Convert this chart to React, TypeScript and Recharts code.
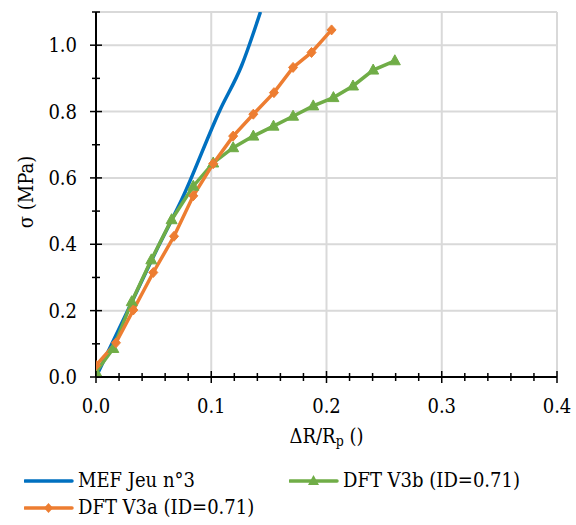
import React from 'react';
import {
  LineChart,
  Line,
  XAxis,
  YAxis,
  CartesianGrid,
} from 'recharts';

const mefX = [0, 0.0275, 0.055, 0.0743, 0.1075, 0.1263, 0.1427];
const mefY = [0, 0.2, 0.4, 0.534, 0.804, 0.938, 1.1];

const v3aX = [0, 0.0173, 0.0324, 0.0497, 0.0677, 0.0844, 0.1017, 0.119, 0.1365, 0.1544, 0.171, 0.187, 0.2044];
const v3aY = [0.035, 0.103, 0.202, 0.315, 0.424, 0.546, 0.643, 0.726, 0.792, 0.857, 0.933, 0.978, 1.046];

const v3bX = [0, 0.015, 0.031, 0.048, 0.0656, 0.0844, 0.1017, 0.119, 0.1365, 0.154, 0.171, 0.1885, 0.206, 0.223, 0.2405, 0.2593];
const v3bY = [0.015, 0.086, 0.227, 0.353, 0.474, 0.575, 0.645, 0.691, 0.726, 0.756, 0.786, 0.817, 0.842, 0.877, 0.925, 0.953];

// major ticks (labelled, with gridlines); minor ticks sit between them
const xTicks = [0, 0.1, 0.2, 0.3, 0.4];
const yTicks = [0, 0.2, 0.4, 0.6, 0.8, 1.0];
const X_MAX = 0.4;
const Y_MAX = 1.1;
const X_MINOR = 0.02;
const Y_MINOR = 0.1;

const BLUE = '#0070C0';
const ORANGE = '#ED7D31';
const GREEN = '#70AD47';
const GRID = '#D9D9D9';
const FONT = "'DejaVu Serif Condensed', 'DejaVu Serif', serif";

const toPoints = (xs: number[], ys: number[]) => xs.map((x, i) => ({ x, y: ys[i] }));
const mefData = toPoints(mefX, mefY);
const v3aData = toPoints(v3aX, v3aY);
const v3bData = toPoints(v3bX, v3bY);

const XTick = (props: any) => {
  const { x, y, payload } = props;
  const w = props.width || 461;
  const step = (w * X_MINOR) / X_MAX;
  const minors = [];
  if (payload.value < X_MAX - 1e-9) {
    for (let k = 1; k < 5; k++) minors.push(x + k * step);
  }
  return (
    <g>
      <line x1={x} x2={x} y1={y - 6} y2={y + 6} stroke="#000" strokeWidth={1.5} />
      {minors.map((mx) => (
        <line key={mx} x1={mx} x2={mx} y1={y - 4} y2={y + 4} stroke="#000" strokeWidth={1.5} />
      ))}
      <text x={x} y={y + 36} textAnchor="middle" fontSize={20} fontFamily={FONT} fill="#000">
        {payload.value.toFixed(1)}
      </text>
    </g>
  );
};

const YTick = (props: any) => {
  const { x, y, payload } = props;
  const h = props.height || 365;
  const step = (h * Y_MINOR) / Y_MAX;
  return (
    <g>
      <line x1={x - 6} x2={x + 6} y1={y} y2={y} stroke="#000" strokeWidth={1.5} />
      <line x1={x - 4} x2={x + 4} y1={y - step} y2={y - step} stroke="#000" strokeWidth={1.5} />
      <text x={x - 19} y={y + 7} textAnchor="end" fontSize={20} fontFamily={FONT} fill="#000">
        {payload.value.toFixed(1)}
      </text>
    </g>
  );
};

const Diamond = (props: any) => {
  const { cx, cy } = props;
  if (cx == null || cy == null) return null;
  return <path d={`M${cx},${cy - 5}L${cx + 4.5},${cy}L${cx},${cy + 5}L${cx - 4.5},${cy}Z`} fill={ORANGE} stroke={ORANGE} />;
};

const Triangle = (props: any) => {
  const { cx, cy } = props;
  if (cx == null || cy == null) return null;
  return <path d={`M${cx},${cy - 6}L${cx + 5.5},${cy + 4}L${cx - 5.5},${cy + 4}Z`} fill={GREEN} stroke={GREEN} />;
};

const LegendItem = ({ color, marker, label }: { color: string; marker?: 'diamond' | 'triangle'; label: string }) => (
  <div style={{ display: 'flex', alignItems: 'center' }}>
    <svg width={50} height={14} style={{ marginRight: 4 }}>
      <line x1={1} x2={48} y1={7} y2={7} stroke={color} strokeWidth={3.5} strokeLinecap="round" />
      {marker === 'diamond' && <path d="M24.5,2L29,7L24.5,12L20,7Z" fill={color} />}
      {marker === 'triangle' && <path d="M24.5,1L30,11L19,11Z" fill={color} />}
    </svg>
    <span>{label}</span>
  </div>
);

export default function App() {
  return (
    <div style={{ position: 'absolute', left: 0, top: 0, width: 576, height: 525, background: '#fff', fontFamily: FONT }}>
      <LineChart width={576} height={525} data={mefData} margin={{ top: 12, right: 19, left: 36, bottom: 93 }}>
        <CartesianGrid stroke={GRID} strokeWidth={2} />
        <XAxis
          type="number"
          dataKey="x"
          domain={[0, X_MAX]}
          ticks={xTicks}
          interval={0}
          allowDataOverflow
          tickLine={false}
          tickSize={0}
          tickMargin={0}
          height={55}
          axisLine={{ stroke: '#000', strokeWidth: 2 }}
          tick={<XTick />}
        />
        <YAxis
          type="number"
          dataKey="y"
          domain={[0, Y_MAX]}
          ticks={yTicks}
          interval={0}
          allowDataOverflow
          tickLine={false}
          tickSize={0}
          tickMargin={0}
          width={60}
          axisLine={{ stroke: '#000', strokeWidth: 2 }}
          tick={<YTick />}
        />
        <Line data={mefData} dataKey="y" type="monotone" stroke={BLUE} strokeWidth={3.5} dot={false} isAnimationActive={false} />
        <Line data={v3bData} dataKey="y" type="linear" stroke={GREEN} strokeWidth={3.5} dot={<Triangle />} isAnimationActive={false} />
        <Line data={v3aData} dataKey="y" type="linear" stroke={ORANGE} strokeWidth={3.5} dot={<Diamond />} isAnimationActive={false} />
      </LineChart>
      <div style={{ position: 'absolute', left: 26, top: 192, width: 0, height: 0 }}>
        <div style={{ position: 'absolute', transform: 'translate(-50%, -50%) rotate(-90deg)', whiteSpace: 'nowrap', fontSize: 20 }}>
          σ (MPa)
        </div>
      </div>
      <div style={{ position: 'absolute', left: 96, width: 461, top: 423, textAlign: 'center', fontSize: 20, lineHeight: '26px' }}>
        ΔR/R<sub style={{ fontSize: 14, verticalAlign: -3 }}>p</sub> ()
      </div>
      <div style={{ position: 'absolute', left: 24, top: 467, fontSize: 20, lineHeight: '27px' }}>
        <LegendItem color={BLUE} label="MEF Jeu n°3" />
        <LegendItem color={ORANGE} marker="diamond" label="DFT V3a (ID=0.71)" />
      </div>
      <div style={{ position: 'absolute', left: 289, top: 467, fontSize: 20, lineHeight: '27px' }}>
        <LegendItem color={GREEN} marker="triangle" label="DFT V3b (ID=0.71)" />
      </div>
    </div>
  );
}
